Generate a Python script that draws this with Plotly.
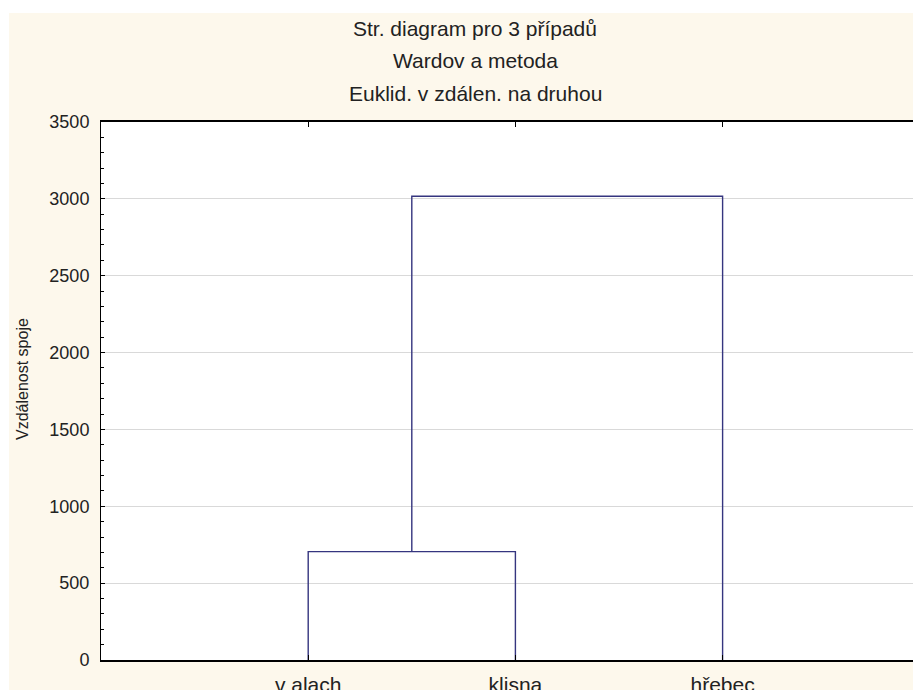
import plotly.graph_objects as go

# ---- data ----
leaf_labels = ["v alach", "klisna", "hřebec"]
leaf_positions = [1, 2, 3]
merge_heights = [705, 3017]          # linkage distances
y_ticks = [0, 500, 1000, 1500, 2000, 2500, 3000, 3500]
titles = ["Str. diagram pro 3 případů", "Wardov a metoda", "Euklid. v zdálen. na druhou"]
y_title = "Vzdálenost spoje"

# page has an 8px body margin; figure coordinates = reference - 8
OFF = 8
W, H = 921, 690
L = 101 - OFF
T = 122 - OFF
B = H - (660 - OFF)
R = W - (920 - OFF)
pw, ph = W - L - R, H - T - B
spacing = 207.2
x_max = pw / spacing

line_color = "#35357f"
font_family = "Liberation Sans, Arial, sans-serif"

fig = go.Figure()

p1, p2, p3 = leaf_positions
h1, h2 = merge_heights
mid12 = (p1 + p2) / 2
fig.add_trace(go.Scatter(x=[p1, p1, p2, p2], y=[0, h1, h1, 0], mode="lines",
                         line=dict(color=line_color, width=1.4), hoverinfo="skip", showlegend=False))
fig.add_trace(go.Scatter(x=[mid12, mid12, p3, p3], y=[h1, h2, h2, 0], mode="lines",
                         line=dict(color=line_color, width=1.4), hoverinfo="skip", showlegend=False))

def fy(py):  # reference pixel y -> paper y
    return (H - B - (py - OFF)) / ph

def fx(px):  # reference pixel x -> paper x
    return ((px - OFF) - L) / pw

shapes = [
    dict(type="rect", xref="paper", yref="paper", x0=fx(0), x1=fx(W + 20),
         y0=fy(13), y1=fy(0), fillcolor="white", line=dict(width=0), layer="below"),
    dict(type="rect", xref="paper", yref="paper", x0=fx(0), x1=fx(9),
         y0=fy(H + 20), y1=fy(0), fillcolor="white", line=dict(width=0), layer="below"),
    dict(type="line", xref="paper", yref="paper", x0=1, x1=1, y0=0, y1=1,
         line=dict(color="#e2e2e2", width=1), layer="below"),
]

annotations = []
for t, py in zip(titles, [28, 61, 93]):
    annotations.append(dict(text=t, xref="paper", yref="paper", x=fx(475), y=fy(py),
                            xanchor="center", yanchor="middle", showarrow=False,
                            font=dict(family=font_family, size=21, color="#222")))
annotations.append(dict(text=y_title, xref="paper", yref="paper", x=fx(22), y=fy(379),
                        xanchor="center", yanchor="middle", showarrow=False, textangle=-90,
                        font=dict(family=font_family, size=16, color="#222")))

fig.update_layout(
    width=W, height=H, autosize=False,
    margin=dict(l=L, r=R, t=T, b=B, pad=0, autoexpand=False),
    paper_bgcolor="#fdf8ec", plot_bgcolor="white",
    shapes=shapes, annotations=annotations,
    xaxis=dict(range=[0, x_max], tickmode="array", tickvals=leaf_positions, ticktext=leaf_labels,
               ticks="inside", ticklen=5, tickcolor="black", showline=True, linewidth=2,
               linecolor="black", mirror="ticks", showgrid=False, zeroline=False,
               automargin=False, ticklabelstandoff=5,
               tickfont=dict(family=font_family, size=21, color="#222")),
    yaxis=dict(range=[0, 3500], tickmode="array", tickvals=y_ticks, ticks="inside", ticklen=4,
               tickcolor="black", showline=True, linewidth=1, linecolor="black",
               showgrid=True, gridcolor="#d9d9d9", gridwidth=1, zeroline=False,
               automargin=False, ticklabelstandoff=7,
               minor=dict(ticks="inside", ticklen=3, dtick=100, tickcolor="black", showgrid=False),
               tickfont=dict(family=font_family, size=18, color="#222")),
)

fig.write_html("out.html")
